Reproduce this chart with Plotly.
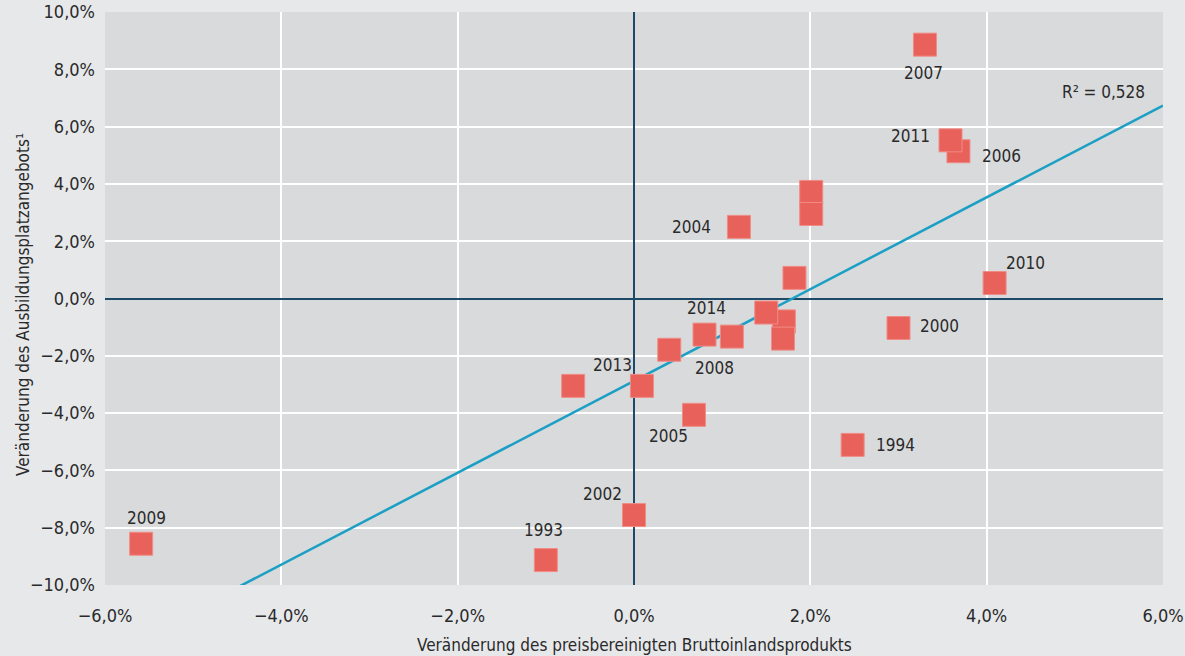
import numpy as np
import plotly.graph_objects as go

# Data (percent)
years = [1993, 1994, 1995, 1996, 1997, 1998, 1999, 2000, 2001, 2002, 2003,
         2004, 2005, 2006, 2007, 2008, 2009, 2010, 2011, 2012, 2013, 2014]
gdp_change = [-1.00, 2.48, 1.70, 0.80, 1.82, 2.01, 2.01, 3.00, 1.69, 0.00, -0.69,
              1.19, 0.68, 3.68, 3.30, 1.11, -5.59, 4.09, 3.59, 0.40, 0.09, 1.50]
supply_change = [-9.13, -5.11, -0.80, -1.26, 0.72, 3.72, 2.95, -1.03, -1.40, -7.56, -3.05,
                 2.50, -4.06, 5.14, 8.86, -1.33, -8.56, 0.54, 5.52, -1.79, -3.05, -0.49]

labeled_years = [1993, 1994, 2000, 2002, 2004, 2005, 2006, 2007, 2008, 2009, 2010, 2011, 2013, 2014]
# label offsets in pixels (dx right, dy down)
label_offsets = {
    1993: (-2, -30), 1994: (43, 0), 2000: (41, -2), 2002: (-32, -21),
    2004: (-47, 0), 2005: (-25, 21), 2006: (43, 5), 2007: (-1, 28),
    2008: (-17, 31), 2009: (5, -26), 2010: (31, -20), 2011: (-40, -4),
    2013: (-29, -21), 2014: (-60, -5),
}

x_ticks = [-6, -4, -2, 0, 2, 4, 6]
y_ticks = [-10, -8, -6, -4, -2, 0, 2, 4, 6, 8, 10]

r2_label = "R² = 0,528"
x_title = "Veränderung des preisbereinigten Bruttoinlandsprodukts"
y_title = "Veränderung des Ausbildungsplatzangebots¹"


def pct_label(v):
    s = f"{abs(v):.1f}".replace(".", ",") + "%"
    return ("\u2212" + s) if v < 0 else s


FONT = "Liberation Sans Narrow, DejaVu Sans Condensed, Arial Narrow, sans-serif"
TXT = "#2a2a2a"

# regression from data
xa = np.array(gdp_change)
ya = np.array(supply_change)
slope, intercept = np.polyfit(xa, ya, 1)
line_x = np.array([x_ticks[0], x_ticks[-1]], dtype=float)
line_y = slope * line_x + intercept

fig = go.Figure()
fig.add_trace(go.Scatter(
    x=line_x, y=line_y, mode="lines",
    line=dict(color="#1b9fc4", width=2.5), hoverinfo="skip", showlegend=False,
))
fig.add_trace(go.Scatter(
    x=gdp_change, y=supply_change, mode="markers",
    marker=dict(symbol="square", size=23, color="#e8615a",
                line=dict(color="#f08c86", width=1)),
    text=[str(y) for y in years], showlegend=False,
))

annotations = []
for yr, gx, sy in zip(years, gdp_change, supply_change):
    if yr in labeled_years:
        dx, dy = label_offsets[yr]
        annotations.append(dict(
            x=gx, y=sy, xref="x", yref="y", text=str(yr), showarrow=False,
            xshift=dx, yshift=-dy, font=dict(family=FONT, size=17, color=TXT),
        ))

annotations.append(dict(
    x=5.32, y=7.21, xref="x", yref="y", text=r2_label, showarrow=False,
    font=dict(family=FONT, size=17, color=TXT),
))
annotations.append(dict(
    x=0.5, y=-0.1047, xref="paper", yref="paper", text=x_title, showarrow=False,
    xanchor="center", yanchor="middle", font=dict(family=FONT, size=17, color=TXT),
))
annotations.append(dict(
    x=-0.0775, y=0.4887, xref="paper", yref="paper", text=y_title, showarrow=False,
    textangle=-90, xanchor="center", yanchor="middle",
    font=dict(family=FONT, size=17, color=TXT),
))

fig.update_layout(
    width=1185, height=656,
    margin=dict(l=105, r=22, t=12, b=71, autoexpand=False),
    paper_bgcolor="#e7e8ea", plot_bgcolor="#d9dadc",
    font=dict(family=FONT, size=18, color=TXT),
    annotations=annotations,
    xaxis=dict(
        range=[x_ticks[0], x_ticks[-1]], tickvals=x_ticks,
        ticktext=[pct_label(v) for v in x_ticks],
        showgrid=True, gridcolor="#ffffff", gridwidth=2,
        zeroline=True, zerolinecolor="#1c4a68", zerolinewidth=2,
        showline=False, ticks="", ticklabelstandoff=18, automargin=False,
        tickfont=dict(family=FONT, size=18, color=TXT),
    ),
    yaxis=dict(
        range=[y_ticks[0], y_ticks[-1]], tickvals=y_ticks,
        ticktext=[pct_label(v) for v in y_ticks],
        showgrid=True, gridcolor="#ffffff", gridwidth=2,
        zeroline=True, zerolinecolor="#1c4a68", zerolinewidth=2,
        showline=False, ticks="", ticklabelstandoff=9, automargin=False,
        tickfont=dict(family=FONT, size=18, color=TXT),
    ),
)

fig.write_html("out.html", config={"displayModeBar": False},
               post_script="document.body.style.margin='0';document.body.style.padding='0';")
